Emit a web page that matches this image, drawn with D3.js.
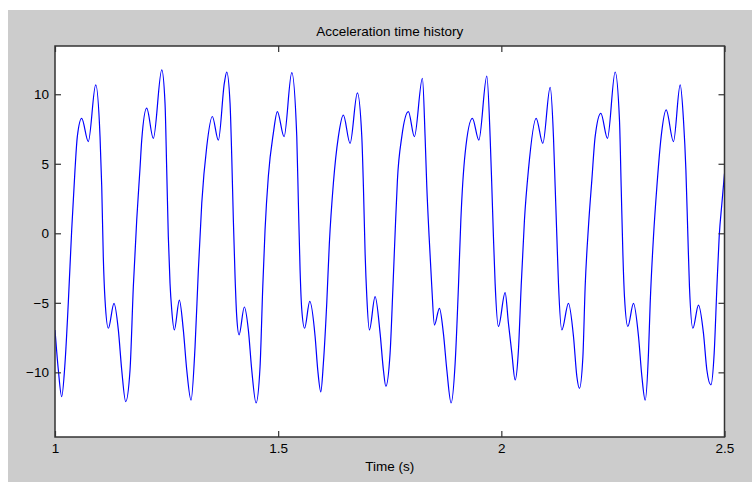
<!DOCTYPE html>
<html>
<head>
<meta charset="utf-8">
<script src="https://cdn.jsdelivr.net/npm/d3@7"></script>
<style>
  body { margin: 0; background: #ffffff; }
  svg { display: block; }
  text { font-family: Arial, "Liberation Sans", sans-serif; fill: #000; }
</style>
</head>
<body>
<script>
// time (s) and acceleration values
const time = [
  1.000, 1.0074, 1.015, 1.0224, 1.0298, 1.0374, 1.0448, 1.050, 1.0598, 1.0746,
  1.0912, 1.1009, 1.1047, 1.1082, 1.1121, 1.1195, 1.1322, 1.1419, 1.1495, 1.1584,
  1.1681, 1.1755, 1.1831, 1.1905, 1.1943, 1.2055, 1.2203, 1.2392, 1.2465, 1.2503,
  1.2539, 1.2577, 1.2615, 1.2674, 1.2786, 1.2875, 1.2952, 1.3048, 1.3138, 1.3212,
  1.3288, 1.3400, 1.3525, 1.3660, 1.3794, 1.3848, 1.3922, 1.3960, 1.3996, 1.4034,
  1.4072, 1.4124, 1.4242, 1.4332, 1.4408, 1.4505, 1.4594, 1.4655, 1.4706, 1.4780,
  1.4892, 1.4982, 1.5132, 1.5305, 1.5417, 1.5453, 1.5491, 1.5529, 1.5592, 1.5708,
  1.5827, 1.5887, 1.5955, 1.6013, 1.6089, 1.6147, 1.6237, 1.6349, 1.6461, 1.6611,
  1.6775, 1.6874, 1.6910, 1.6948, 1.6986, 1.7044, 1.7172, 1.7284, 1.7358, 1.7412,
  1.7508, 1.7570, 1.7620, 1.7672, 1.7770, 1.7918, 1.8052, 1.8232, 1.8292, 1.8330,
  1.8382, 1.8442, 1.8501, 1.8613, 1.8702, 1.8779, 1.8875, 1.8965, 1.9039, 1.9093,
  1.9189, 1.9352, 1.9496, 1.9675, 1.9749, 1.9787, 1.9823, 1.9861, 1.9935, 2.0085,
  2.0159, 2.0235, 2.0309, 2.0383, 2.0444, 2.0518, 2.0607, 2.0780, 2.0930, 2.1094,
  2.1168, 2.1206, 2.1244, 2.1280, 2.1356, 2.1504, 2.1616, 2.1692, 2.1750, 2.1827,
  2.1878, 2.1952, 2.2028, 2.2102, 2.2230, 2.2378, 2.2550, 2.2647, 2.2685, 2.2723,
  2.2759, 2.2835, 2.2961, 2.3073, 2.3149, 2.3223, 2.3297, 2.3335, 2.3409, 2.3485,
  2.3581, 2.3693, 2.3857, 2.4007, 2.4081, 2.4135, 2.4180, 2.4215, 2.4292, 2.4417,
  2.4529, 2.4605, 2.4695, 2.4769, 2.4830, 2.4881, 2.4942, 2.5000
];
const accel = [
  -6.95, -9.8, -11.75, -9.35, -5.0, 0.24, 4.56, 6.95, 8.27, 6.6,
  10.67, 6.95, 3.36, -1.68, -4.8, -6.83, -5.04, -6.95, -9.83, -12.1,
  -9.83, -3.84, 0.96, 4.7, 6.7, 9.0, 6.83, 11.75, 9.35, 4.56,
  -0.24, -3.6, -5.5, -6.95, -4.8, -6.95, -9.83, -12.0, -8.15, -2.64,
  2.16, 6.24, 8.4, 6.7, 10.8, 11.6, 9.35, 5.5, 0.96, -3.1,
  -6.0, -7.3, -5.3, -6.95, -9.83, -12.2, -9.6, -3.84, 0.24, 4.1,
  7.2, 8.75, 6.95, 11.55, 6.95, 2.16, -2.64, -5.5, -6.83, -4.9,
  -7.4, -9.83, -11.4, -9.35, -5.0, -0.72, 3.6, 6.95, 8.5, 6.47,
  10.1, 6.95, 3.36, -1.44, -4.56, -6.95, -4.56, -7.2, -9.83, -11.0,
  -8.6, -4.0, 0.0, 3.84, 6.95, 8.75, 6.95, 11.15, 6.95, 3.36,
  -0.24, -3.84, -6.6, -5.4, -7.2, -9.83, -12.2, -9.35, -3.84, 0.96,
  5.76, 8.27, 6.7, 11.3, 6.95, 3.36, -0.24, -3.6, -6.7, -4.27,
  -6.47, -8.6, -10.55, -8.4, -3.84, 0.96, 4.56, 8.27, 6.47, 10.5,
  6.95, 3.36, -0.24, -3.6, -6.95, -5.04, -7.4, -10.3, -11.15, -8.9,
  -3.84, 0.48, 3.84, 6.95, 8.63, 6.83, 11.6, 8.15, 3.36, -1.44,
  -4.56, -6.7, -5.04, -7.4, -10.3, -12.0, -8.6, -5.04, -0.24, 3.36,
  6.95, 8.87, 6.6, 10.67, 8.15, 4.56, -0.24, -3.84, -6.83, -5.16,
  -7.2, -9.83, -10.9, -8.6, -3.84, -0.24, 2.16, 4.3
];
const xTicks = [1, 1.5, 2, 2.5];
const yTicks = [-10, -5, 0, 5, 10];
const xDomain = [1, 2.5];
const yDomain = [-14.65, 13.47];

const W = 752, H = 482;
const plot = { left: 55, top: 46, right: 724.5, bottom: 437 };

const svg = d3.select("body").append("svg").attr("width", W).attr("height", H);

// figure background
svg.append("rect")
  .attr("x", 8).attr("y", 10)
  .attr("width", W - 8).attr("height", H - 10)
  .attr("fill", "#cccccc");

// axes area
svg.append("rect")
  .attr("x", plot.left).attr("y", plot.top)
  .attr("width", plot.right - plot.left).attr("height", plot.bottom - plot.top)
  .attr("fill", "#ffffff");

const x = d3.scaleLinear().domain(xDomain).range([plot.left, plot.right]);
const y = d3.scaleLinear().domain(yDomain).range([plot.bottom, plot.top]);

const points = time.map((t, i) => ({ t, a: accel[i] }));

// clip the trace to the axes box
svg.append("clipPath").attr("id", "clip")
  .append("rect")
  .attr("x", plot.left).attr("y", plot.top)
  .attr("width", plot.right - plot.left).attr("height", plot.bottom - plot.top);

const line = d3.line()
  .x((d) => x(d.t))
  .y((d) => y(d.a))
  .curve(d3.curveMonotoneX);

svg.append("path")
  .datum(points)
  .attr("clip-path", "url(#clip)")
  .attr("d", line)
  .attr("fill", "none")
  .attr("stroke", "#0000ff")
  .attr("stroke-width", 1.2);

// inward ticks on all four sides (matlab style)
const tickLen = 6;
const styleAxis = (g) => {
  g.select(".domain").remove();
  g.selectAll(".tick line").attr("stroke", "#333").attr("stroke-width", 1.2);
  g.selectAll(".tick text")
    .attr("font-size", "13.5px")
    .attr("font-family", "Arial, 'Liberation Sans', sans-serif")
    .attr("fill", "#000");
};

svg.append("g")
  .attr("transform", `translate(0,${plot.bottom})`)
  .call(d3.axisBottom(x).tickValues(xTicks).tickSize(-tickLen).tickPadding(6)
    .tickFormat(d3.format("")))
  .call(styleAxis);

svg.append("g")
  .attr("transform", `translate(0,${plot.top})`)
  .call(d3.axisTop(x).tickValues(xTicks).tickSize(-tickLen).tickFormat(""))
  .call(styleAxis);

svg.append("g")
  .attr("transform", `translate(${plot.left},0)`)
  .call(d3.axisLeft(y).tickValues(yTicks).tickSize(-tickLen).tickPadding(6)
    .tickFormat(d3.format("")))
  .call(styleAxis);

svg.append("g")
  .attr("transform", `translate(${plot.right},0)`)
  .call(d3.axisRight(y).tickValues(yTicks).tickSize(-tickLen).tickFormat(""))
  .call(styleAxis);

// box
svg.append("rect")
  .attr("x", plot.left).attr("y", plot.top)
  .attr("width", plot.right - plot.left).attr("height", plot.bottom - plot.top)
  .attr("fill", "none")
  .attr("stroke", "#333")
  .attr("stroke-width", 1.5);

// title and x label
svg.append("text")
  .attr("x", (plot.left + plot.right) / 2)
  .attr("y", 36)
  .attr("text-anchor", "middle")
  .attr("font-size", "13.5px")
  .text("Acceleration time history");

svg.append("text")
  .attr("x", (plot.left + plot.right) / 2)
  .attr("y", 471)
  .attr("text-anchor", "middle")
  .attr("font-size", "13.5px")
  .text("Time (s)");
</script>
</body>
</html>
